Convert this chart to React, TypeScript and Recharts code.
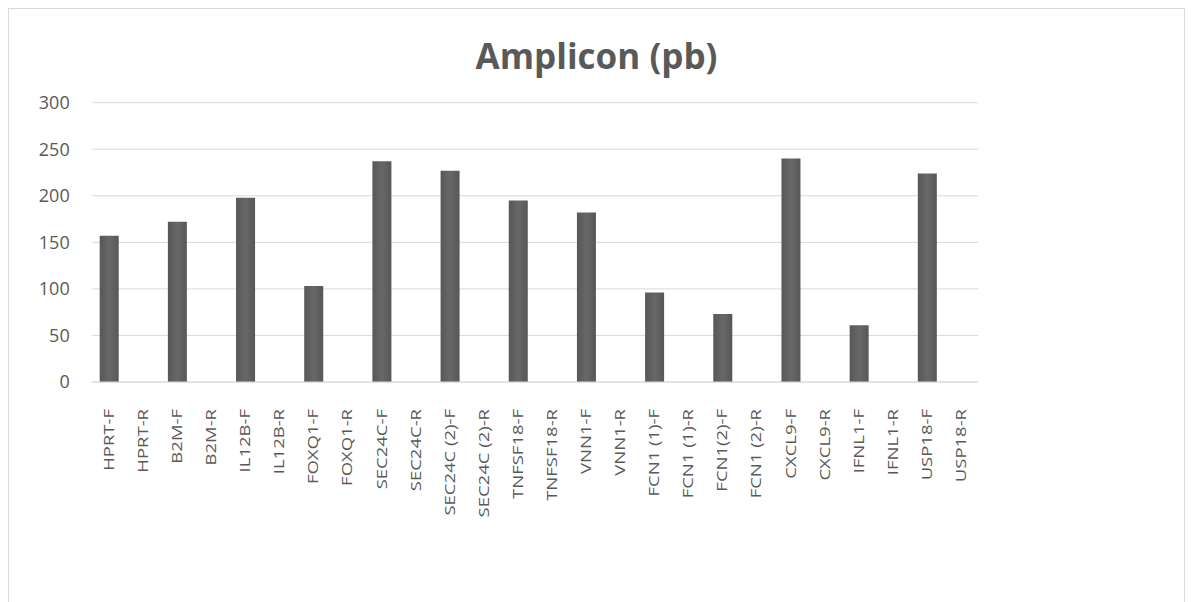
import React from "react";
import { BarChart, Bar, XAxis, YAxis, CartesianGrid } from "recharts";

// Primer names, in plotted order
const primers = [
  "HPRT-F", "HPRT-R", "B2M-F", "B2M-R", "IL12B-F", "IL12B-R", "FOXQ1-F", "FOXQ1-R",
  "SEC24C-F", "SEC24C-R", "SEC24C (2)-F", "SEC24C (2)-R", "TNFSF18-F", "TNFSF18-R",
  "VNN1-F", "VNN1-R", "FCN1 (1)-F", "FCN1 (1)-R", "FCN1(2)-F", "FCN1 (2)-R",
  "CXCL9-F", "CXCL9-R", "IFNL1-F", "IFNL1-R", "USP18-F", "USP18-R",
];

// Amplicon length (bp) listed on the forward primer row; reverse rows are empty
const amplicon: (number | null)[] = [
  157, null, 172, null, 198, null, 103, null,
  237, null, 227, null, 195, null,
  182, null, 96, null, 73, null,
  240, null, 61, null, 224, null,
];

const yTicks = [0, 50, 100, 150, 200, 250, 300];

const rows = primers.map((name, i) => ({ name, amplicon: amplicon[i] }));

const FONT = "'Open Sans', 'Noto Sans', sans-serif";
const TEXT = "#595959";

const PrimerTick = (props: any) => {
  const { x, y, payload } = props;
  return (
    <g transform={`translate(${x},${y})`}>
      <text
        transform="rotate(-90) scale(1,0.76)"
        x={-19}
        y={0}
        dy="0.36em"
        textAnchor="end"
        fill={TEXT}
        fontSize={18.5}
        fontFamily={FONT}
      >
        {payload.value}
      </text>
    </g>
  );
};

export default function App() {
  return (
    <div
      style={{
        position: "relative",
        width: 1177,
        height: 600,
        border: "1px solid #d9d9d9",
        boxSizing: "border-box",
        background: "#fff",
      }}
    >
      <div
        style={{
          position: "absolute",
          left: 0,
          right: 0,
          top: 24,
          textAlign: "center",
          fontFamily: FONT,
          fontWeight: 700,
          fontSize: 35,
          color: TEXT,
          lineHeight: "46px",
        }}
      >
        Amplicon (pb)
      </div>
      <BarChart
        width={1175}
        height={590}
        data={rows}
        margin={{ top: 93.7, right: 206, bottom: 97, left: 0 }}
      >
        <defs>
          <linearGradient id="barShade" x1="0" y1="0" x2="1" y2="0">
            <stop offset="0%" stopColor="#575757" />
            <stop offset="50%" stopColor="#686868" />
            <stop offset="100%" stopColor="#575757" />
          </linearGradient>
        </defs>
        <CartesianGrid vertical={false} stroke="#d9d9d9" strokeWidth={1} />
        <XAxis
          dataKey="name"
          interval={0}
          height={120}
          tickLine={false}
          axisLine={{ stroke: "#d9d9d9" }}
          tick={<PrimerTick />}
        />
        <YAxis
          width={82.7}
          domain={[0, 300]}
          ticks={yTicks}
          tickLine={false}
          axisLine={false}
          tickSize={0}
          tickMargin={22}
          tick={{ fill: TEXT, fontSize: 18, fontFamily: FONT }}
        />
        <Bar
          dataKey="amplicon"
          fill="url(#barShade)"
          barSize={19}
          isAnimationActive={false}
        />
      </BarChart>
    </div>
  );
}
